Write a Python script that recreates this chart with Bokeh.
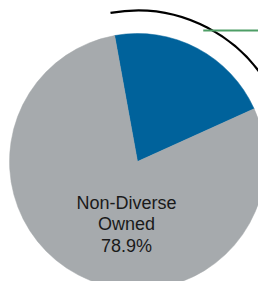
import numpy as np
from bokeh.plotting import figure
from bokeh.models import Range1d, ColumnDataSource
from bokeh.core.properties import value
from bokeh.embed import file_html
from bokeh.resources import INLINE

# ---- data ----
categories = ["Diverse Owned", "Non-Diverse Owned"]
shares = [21.1, 78.9]
colors = ["#00629B", "#A6AAAD"]
label_lines = ["Non-Diverse", "Owned", "78.9%"]

# ---- layout (pixel-like coordinates, y up) ----
W, H = 258, 281
cx, cy = 137, -161
r_pie = 128
r_arc = 151
start_deg = 100.3  # first wedge starts slightly left of 12 o'clock, goes clockwise

vals = np.array(shares, dtype=float)
spans = vals / vals.sum() * 2 * np.pi
starts = np.deg2rad(start_deg) - np.concatenate([[0], np.cumsum(spans)[:-1]])
ends = starts - spans

src = ColumnDataSource(dict(cat=categories, start=starts, end=ends, color=colors))

p = figure(width=W, height=H, output_backend="svg", toolbar_location=None,
           x_range=Range1d(0, W), y_range=Range1d(-H, 0),
           min_border=0, outline_line_color=None)
p.axis.visible = False
p.grid.visible = False
p.background_fill_color = "white"

p.wedge(x=cx, y=cy, radius=r_pie, start_angle="start", end_angle="end",
        direction="clock", fill_color="color", line_color="color", line_width=0.5,
        source=src)

# outer bracket arc around the first (diverse) slice
p.arc(x=cx, y=cy, radius=r_arc, start_angle=starts[0], end_angle=ends[0],
      direction="clock", line_color="black", line_width=2.2)

# leader line from the arc's middle to the (off-canvas) label
mid = (starts[0] + ends[0]) / 2
lx = cx + (r_arc - 3) * np.cos(mid)
ly = cy + (r_arc - 3) * np.sin(mid)
p.line(x=[lx - 3, lx + 120], y=[ly, ly], line_color="#4E9E66", line_width=2)

# label of the large slice (one glyph per line for exact spacing)
line_gap = 21.5
ys = [cy - 41 - i * line_gap for i in range(len(label_lines))]
p.text(x=[cx - 11] * len(label_lines), y=ys, text=label_lines,
       text_font=value("Liberation Sans"), text_font_size="18px",
       text_align="center", text_baseline="alphabetic", text_color="#1a1a1a")

open("out.html", "w").write(file_html(p, INLINE))
